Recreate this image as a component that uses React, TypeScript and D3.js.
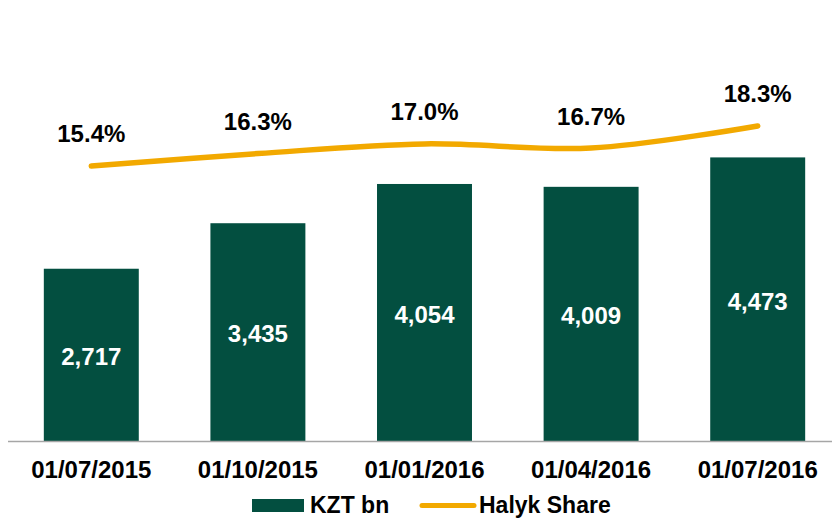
import React from "react";
import * as d3 from "d3";

const categories = ["01/07/2015", "01/10/2015", "01/01/2016", "01/04/2016", "01/07/2016"];
const kztValues = [2717, 3435, 4054, 4009, 4473];
const shareValues = [15.4, 16.3, 17.0, 16.7, 18.3];
const seriesNames = ["KZT bn", "Halyk Share"];

const W = 832;
const H = 519;
const GREEN = "#034F40";
const ORANGE = "#F2A900";
const FONT = "'Liberation Sans', Arial, Helvetica, sans-serif";

export default function App() {
  const x = d3.scaleBand<string>().domain(categories).range([8, 841]).paddingInner(0.43).paddingOuter(0.215);
  const y = d3.scaleLinear().domain([0, 5000]).range([441, 124]);
  const y2 = d3.scaleLinear().domain([10, 20]).range([240.5, 102.5]);
  const fmt = d3.format(",");

  const line = d3
    .line<number>()
    .x((_, i) => (x(categories[i]) as number) + x.bandwidth() / 2)
    .y((d) => y2(d))
    .curve(d3.curveCatmullRom.alpha(0.5));

  return (
    <svg width={W} height={H} style={{ position: "absolute", left: 0, top: 0, background: "#fff" }} fontFamily={FONT}>
      {categories.map((c, i) => (
        <rect key={c} x={x(c)} y={y(kztValues[i])} width={x.bandwidth()} height={y(0) - y(kztValues[i])} fill={GREEN} />
      ))}
      <line x1={8} x2={W} y1={y(0) + 0.5} y2={y(0) + 0.5} stroke="#a6a6a6" strokeWidth={1.5} />
      {categories.map((c, i) => (
        <text
          key={"v" + c}
          x={(x(c) as number) + x.bandwidth() / 2}
          y={(y(kztValues[i]) + y(0)) / 2}
          dy="0.43em"
          textAnchor="middle"
          fill="#fff"
          fontWeight="bold"
          fontSize={24}
        >
          {fmt(kztValues[i])}
        </text>
      ))}
      <path d={line(shareValues) || ""} fill="none" stroke={ORANGE} strokeWidth={5.5} strokeLinecap="round" />
      {categories.map((c, i) => (
        <text
          key={"p" + c}
          x={(x(c) as number) + x.bandwidth() / 2}
          y={y2(shareValues[i]) - 23.5}
          textAnchor="middle"
          fill="#000"
          fontWeight="bold"
          fontSize={24}
        >
          {shareValues[i].toFixed(1) + "%"}
        </text>
      ))}
      {categories.map((c) => (
        <text
          key={"x" + c}
          x={(x(c) as number) + x.bandwidth() / 2}
          y={478}
          textAnchor="middle"
          fill="#000"
          fontWeight="bold"
          fontSize={24}
        >
          {c}
        </text>
      ))}
      <g>
        <rect x={252} y={499} width={52} height={13} fill={GREEN} />
        <text x={310} y={513} fill="#000" fontWeight="bold" fontSize={23}>
          {seriesNames[0]}
        </text>
        <line x1={422} x2={474} y1={505.5} y2={505.5} stroke={ORANGE} strokeWidth={5} strokeLinecap="round" />
        <text x={479} y={513} fill="#000" fontWeight="bold" fontSize={23}>
          {seriesNames[1]}
        </text>
      </g>
    </svg>
  );
}
